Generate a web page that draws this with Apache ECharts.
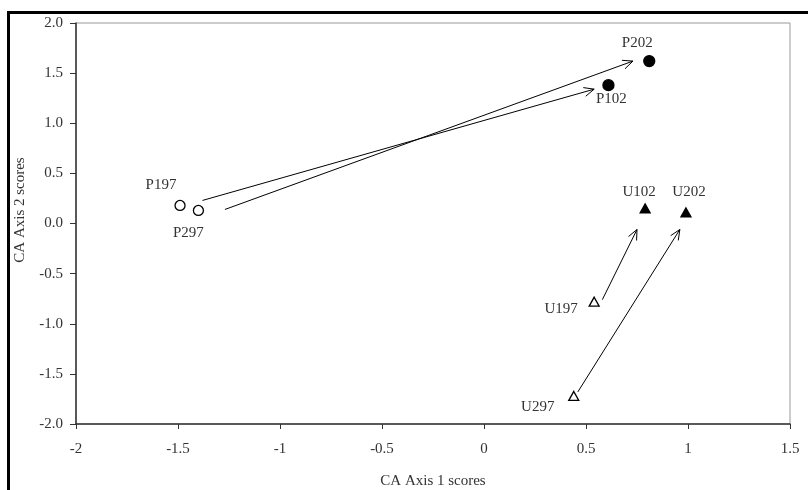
<!DOCTYPE html>
<html>
<head>
<meta charset="utf-8">
<script src="https://cdn.jsdelivr.net/npm/echarts@6/dist/echarts.min.js"></script>
<style>html,body{margin:0;padding:0;background:#fff}#c{width:808px;height:490px}</style>
</head>
<body>
<div id="c"></div>
<script>
// ---- data ----
const pointNames = ['P197', 'P297', 'P102', 'P202', 'U197', 'U297', 'U102', 'U202'];
const xScores = [-1.49, -1.40, 0.61, 0.81, 0.54, 0.44, 0.79, 0.99];
const yScores = [0.18, 0.13, 1.38, 1.62, -0.78, -1.72, 0.15, 0.11];
const groups = ['open circle', 'open circle', 'filled circle', 'filled circle', 'open triangle', 'open triangle', 'filled triangle', 'filled triangle'];

const arrowFromX = [-1.38, -1.27, 0.58, 0.46];
const arrowFromY = [0.23, 0.14, -0.76, -1.68];
const arrowToX = [0.54, 0.73, 0.75, 0.96];
const arrowToY = [1.34, 1.62, -0.06, -0.06];

const xTicks = [-2, -1.5, -1, -0.5, 0, 0.5, 1, 1.5];
const yTicks = [-2.0, -1.5, -1.0, -0.5, 0.0, 0.5, 1.0, 1.5, 2.0];

// ---- styling ----
const FONT = '"Liberation Serif", "DejaVu Serif", serif';
const FS = 15;
const labelOffsets = {
  P197: [-19, -20], P297: [-10, 23], P102: [3, 14], P202: [-12, -18],
  U197: [-33, 7], U297: [-36, 11], U102: [-6, -16], U202: [3, -20]
};
const groupStyle = {
  'open circle': { symbol: 'circle', size: 10, fill: '#fff' },
  'filled circle': { symbol: 'circle', size: 11, fill: '#000' },
  'open triangle': { symbol: 'triangle', size: [10, 9], fill: '#fff' },
  'filled triangle': { symbol: 'triangle', size: [10, 9], fill: '#000' }
};

const groupOrder = ['open circle', 'filled circle', 'open triangle', 'filled triangle'];
const scatterSeries = groupOrder.map(function (g) {
  const st = groupStyle[g];
  const data = [];
  pointNames.forEach(function (n, i) {
    if (groups[i] !== g) return;
    data.push({
      name: n,
      value: [xScores[i], yScores[i]],
      label: { offset: labelOffsets[n] }
    });
  });
  return {
    type: 'scatter',
    name: g,
    symbol: st.symbol,
    symbolSize: st.size,
    itemStyle: { color: st.fill, borderColor: '#000', borderWidth: 1.3, opacity: 1 },
    label: {
      show: true, position: 'inside', formatter: '{b}',
      fontFamily: FONT, fontSize: FS, color: '#333'
    },
    emphasis: { disabled: true },
    data: data,
    z: 3
  };
});

const arrowData = arrowFromX.map(function (v, i) {
  return [arrowFromX[i], arrowFromY[i], arrowToX[i], arrowToY[i]];
});

const arrowSeries = {
  type: 'custom',
  name: 'arrows',
  coordinateSystem: 'cartesian2d',
  encode: { x: [0, 2], y: [1, 3] },
  silent: true,
  data: arrowData,
  renderItem: function (params, api) {
    const p1 = api.coord([api.value(0), api.value(1)]);
    const p2 = api.coord([api.value(2), api.value(3)]);
    const ang = Math.atan2(p2[1] - p1[1], p2[0] - p1[0]);
    const L = 11, a = 0.42;
    const h1 = [p2[0] - L * Math.cos(ang - a), p2[1] - L * Math.sin(ang - a)];
    const h2 = [p2[0] - L * Math.cos(ang + a), p2[1] - L * Math.sin(ang + a)];
    const style = { stroke: '#000', lineWidth: 1, fill: null };
    return {
      type: 'group',
      children: [
        { type: 'line', shape: { x1: p1[0], y1: p1[1], x2: p2[0], y2: p2[1] }, style: style },
        { type: 'polyline', shape: { points: [h1, p2, h2] }, style: style }
      ]
    };
  },
  z: 2
};

const chart = echarts.init(document.getElementById('c'), null, { renderer: 'canvas' });
chart.setOption({
  animation: false,
  backgroundColor: '#fff',
  textStyle: { fontFamily: FONT },
  grid: {
    left: 76, top: 23, right: 18, bottom: 66,
    outerBoundsMode: 'none', containLabel: false,
    show: true, borderColor: '#999', borderWidth: 1, backgroundColor: 'transparent'
  },
  xAxis: {
    type: 'value', min: xTicks[0], max: xTicks[xTicks.length - 1], interval: 0.5,
    name: 'CA Axis 1 scores', nameLocation: 'middle', nameGap: 50,
    nameTextStyle: { fontFamily: FONT, fontSize: FS, color: '#333' },
    axisLine: { show: true, onZero: false, lineStyle: { color: '#333', width: 1.5 } },
    axisTick: { show: true, length: 5, inside: false, lineStyle: { color: '#333' } },
    axisLabel: {
      fontFamily: FONT, fontSize: FS, color: '#333', margin: 18,
      formatter: function (v) { return String(parseFloat(v.toFixed(1))); }
    },
    splitLine: { show: false }
  },
  yAxis: {
    type: 'value', min: yTicks[0], max: yTicks[yTicks.length - 1], interval: 0.5,
    axisLine: { show: true, onZero: false, lineStyle: { color: '#333', width: 1.5 } },
    axisTick: { show: true, length: 6, inside: false, lineStyle: { color: '#333' } },
    axisLabel: {
      fontFamily: FONT, fontSize: FS, color: '#333', margin: 13,
      formatter: function (v) { return v.toFixed(1); }
    },
    splitLine: { show: false }
  },
  graphic: [
    {
      type: 'rect', left: 6, top: 10, silent: true,
      shape: { x: 0, y: 0, width: 830, height: 520 },
      style: { fill: null, stroke: '#000', lineWidth: 3 }
    },
    {
      type: 'text', x: 20, y: 210, rotation: Math.PI / 2, silent: true,
      style: {
        text: 'CA Axis 2 scores', fontFamily: FONT, fontSize: FS, fill: '#333',
        align: 'center', verticalAlign: 'middle'
      }
    }
  ],
  series: [arrowSeries].concat(scatterSeries)
});
</script>
</body>
</html>
